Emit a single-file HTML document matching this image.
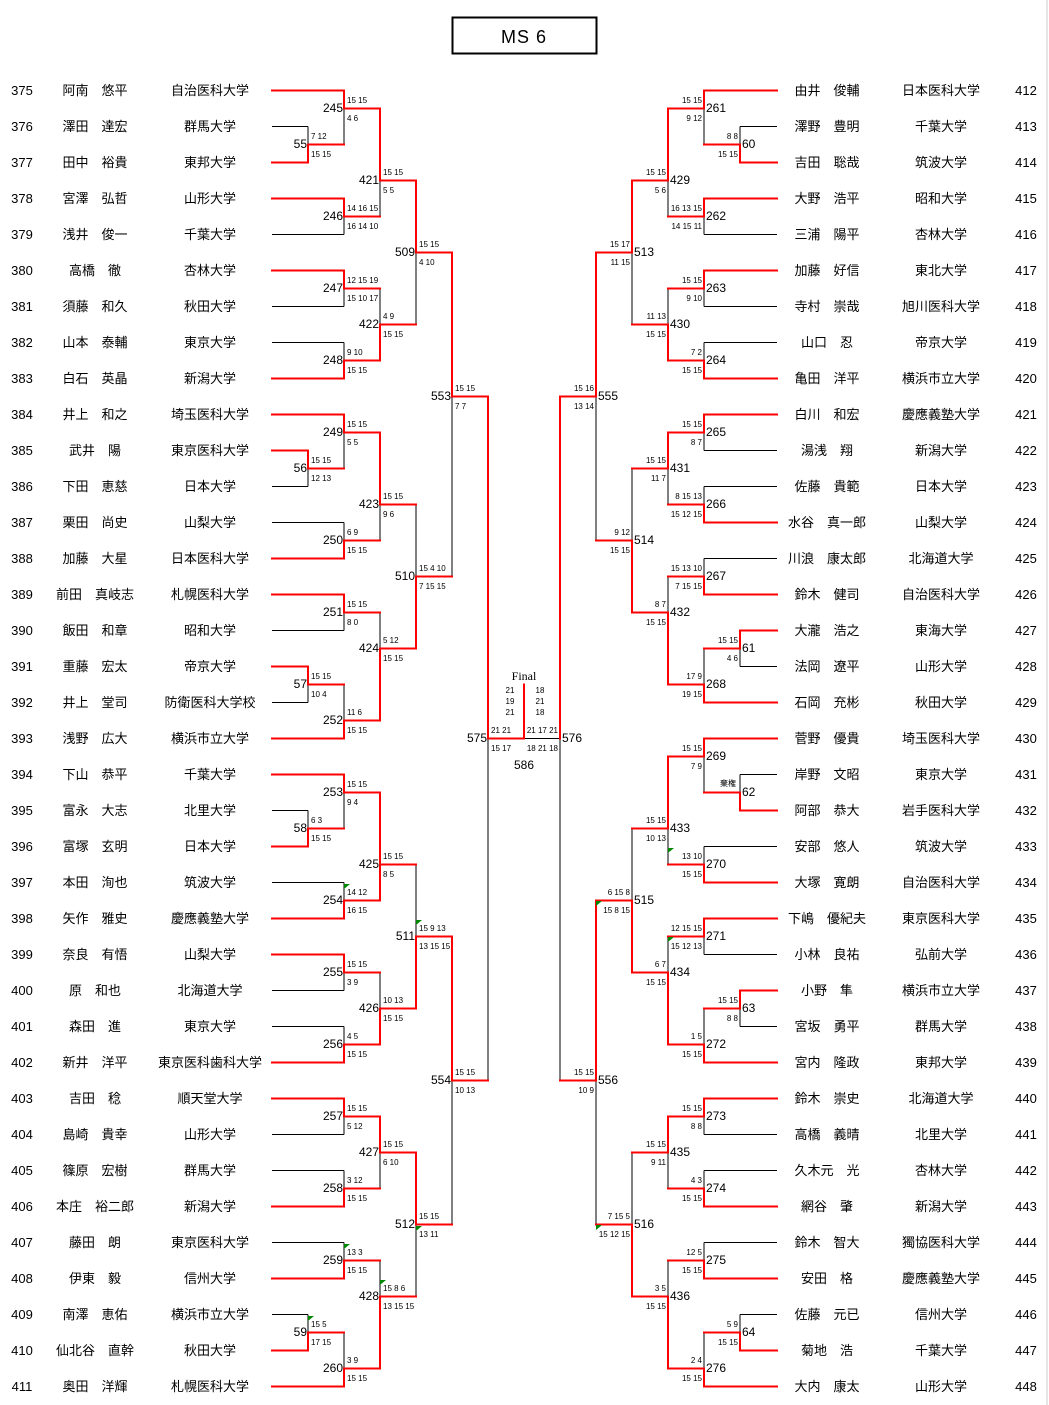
<!DOCTYPE html>
<html><head><meta charset="utf-8">
<style>
html,body{margin:0;padding:0;background:#fff;}
svg{display:block;}
.t{font-family:"Liberation Sans","Noto Sans CJK JP",sans-serif;font-size:13px;fill:#000;}
.lb{font-family:"Liberation Sans",sans-serif;font-size:12px;fill:#000;}
.sc{font-family:"Liberation Sans",sans-serif;font-size:8px;fill:#000;}
</style></head>
<body>
<svg id="s" width="1049" height="1405" xmlns="http://www.w3.org/2000/svg">
<rect x="0" y="0" width="1049" height="1405" fill="#fff"/>
<line x1="1047" y1="0" x2="1047" y2="1405" stroke="#ccc" stroke-width="1"/>
<rect x="452.5" y="17.5" width="144" height="36" fill="none" stroke="#000" stroke-width="2"/>
<text x="524" y="43" text-anchor="middle" font-family="Liberation Sans,sans-serif" font-size="18" letter-spacing="1">MS 6</text>
<text x="524" y="680" text-anchor="middle" font-family="Liberation Serif,serif" font-size="12">Final</text>
</svg>
<script>
var S=document.getElementById('s'),NS='http://www.w3.org/2000/svg';
var blk=[],red=[],txt=[];
function ln(x1,y1,x2,y2,r){(r?red:blk).push([x1,y1,x2,y2]);}
function T(x,y,s,cls,anc){txt.push([x,y,s,cls,anc]);}
var left=[["阿南　悠平","自治医科大学"],["澤田　達宏","群馬大学"],["田中　裕貴","東邦大学"],["宮澤　弘哲","山形大学"],["浅井　俊一","千葉大学"],["高橋　徹","杏林大学"],["須藤　和久","秋田大学"],["山本　泰輔","東京大学"],["白石　英晶","新潟大学"],["井上　和之","埼玉医科大学"],["武井　陽","東京医科大学"],["下田　恵慈","日本大学"],["栗田　尚史","山梨大学"],["加藤　大星","日本医科大学"],["前田　真岐志","札幌医科大学"],["飯田　和章","昭和大学"],["重藤　宏太","帝京大学"],["井上　堂司","防衛医科大学校"],["浅野　広大","横浜市立大学"],["下山　恭平","千葉大学"],["富永　大志","北里大学"],["富塚　玄明","日本大学"],["本田　洵也","筑波大学"],["矢作　雅史","慶應義塾大学"],["奈良　有悟","山梨大学"],["原　和也","北海道大学"],["森田　進","東京大学"],["新井　洋平","東京医科歯科大学"],["吉田　稔","順天堂大学"],["島崎　貴幸","山形大学"],["篠原　宏樹","群馬大学"],["本庄　裕二郎","新潟大学"],["藤田　朗","東京医科大学"],["伊東　毅","信州大学"],["南澤　恵佑","横浜市立大学"],["仙北谷　直幹","秋田大学"],["奥田　洋輝","札幌医科大学"]];
var right=[["由井　俊輔","日本医科大学"],["澤野　豊明","千葉大学"],["吉田　聡哉","筑波大学"],["大野　浩平","昭和大学"],["三浦　陽平","杏林大学"],["加藤　好信","東北大学"],["寺村　崇哉","旭川医科大学"],["山口　忍","帝京大学"],["亀田　洋平","横浜市立大学"],["白川　和宏","慶應義塾大学"],["湯浅　翔","新潟大学"],["佐藤　貴範","日本大学"],["水谷　真一郎","山梨大学"],["川浪　康太郎","北海道大学"],["鈴木　健司","自治医科大学"],["大瀧　浩之","東海大学"],["法岡　遼平","山形大学"],["石岡　充彬","秋田大学"],["菅野　優貴","埼玉医科大学"],["岸野　文昭","東京大学"],["阿部　恭大","岩手医科大学"],["安部　悠人","筑波大学"],["大塚　寛朗","自治医科大学"],["下嶋　優紀夫","東京医科大学"],["小林　良祐","弘前大学"],["小野　隼","横浜市立大学"],["宮坂　勇平","群馬大学"],["宮内　隆政","東邦大学"],["鈴木　崇史","北海道大学"],["高橋　義晴","北里大学"],["久木元　光","杏林大学"],["網谷　肇","新潟大学"],["鈴木　智大","獨協医科大学"],["安田　格","慶應義塾大学"],["佐藤　元已","信州大学"],["菊地　浩","千葉大学"],["大内　康太","山形大学"]];
for(var i=0;i<37;i++){var y=90+36*i+5;
T(22,y,String(375+i),'t','middle');T(95,y,left[i][0],'t','middle');T(210,y,left[i][1],'t','middle');
T(1026,y,String(412+i),'t','middle');T(827,y,right[i][0],'t','middle');T(941,y,right[i][1],'t','middle');}
// match: [label,x,yA,fromA,hA,yB,fromB,hB,out,win,st,sb]
function M(side,m){var lab=m[0],x=m[1],ya=m[2],fa=m[3],ha=m[4],yb=m[5],fb=m[6],hb=m[7],o=m[8],w=m[9];
ln(fa,ya,x,ya,ha);ln(x,ya,x,o,w.indexOf('A')>=0);ln(x,o,x,yb,w.indexOf('B')>=0);ln(fb,yb,x,yb,hb);
if(side<0){T(x-1,o+4,lab,'lb','end');if(m[10])T(x+3,o-5,m[10],'sc','start');if(m[11])T(x+3,o+13,m[11],'sc','start');}
else{T(x+2,o+4,lab,'lb','start');if(m[10])T(x-2,o-5,m[10],'sc','end');if(m[11])T(x-2,o+13,m[11],'sc','end');}}
var L=[
['55',308,126,272,0,162,272,1,144,'B','7 12','15 15'],
['56',308,450,272,1,486,272,0,468,'A','15 15','12 13'],
['57',308,666,272,1,702,272,0,684,'A','15 15','10 4'],
['58',308,810,272,0,846,272,1,828,'B','6 3','15 15'],
['59',308,1314,272,0,1350,272,1,1332,'B','15 5','17 15'],
['245',344,90,272,1,144,308,1,108,'A','15 15','4 6'],
['246',344,198,272,1,234,272,0,216,'A','14 16 15','16 14 10'],
['247',344,270,272,1,306,272,0,288,'A','12 15 19','15 10 17'],
['248',344,342,272,0,378,272,1,360,'B','9 10','15 15'],
['249',344,414,272,1,468,308,1,432,'A','15 15','5 5'],
['250',344,522,272,0,558,272,1,540,'B','6 9','15 15'],
['251',344,594,272,1,630,272,0,612,'A','15 15','8 0'],
['252',344,684,308,1,738,272,1,720,'B','11 6','15 15'],
['253',344,774,272,1,828,308,1,792,'A','15 15','9 4'],
['254',344,882,272,0,918,272,1,900,'B','14 12','16 15'],
['255',344,954,272,1,990,272,0,972,'A','15 15','3 9'],
['256',344,1026,272,0,1062,272,1,1044,'B','4 5','15 15'],
['257',344,1098,272,1,1134,272,0,1116,'A','15 15','5 12'],
['258',344,1170,272,0,1206,272,1,1188,'B','3 12','15 15'],
['259',344,1242,272,0,1278,272,1,1260,'B','13 3','15 15'],
['260',344,1332,308,1,1386,272,1,1368,'B','3 9','15 15'],
['421',380,108,344,1,216,344,1,180,'A','15 15','5 5'],
['422',380,288,344,1,360,344,1,324,'B','4 9','15 15'],
['423',380,432,344,1,540,344,1,504,'A','15 15','9 6'],
['424',380,612,344,1,720,344,1,648,'B','5 12','15 15'],
['425',380,792,344,1,900,344,1,864,'AB','15 15','8 5'],
['426',380,972,344,1,1044,344,1,1008,'B','10 13','15 15'],
['427',380,1116,344,1,1188,344,1,1152,'A','15 15','6 10'],
['428',380,1260,344,1,1368,344,1,1296,'B','15 8 6','13 15 15'],
['509',416,180,380,1,324,380,1,252,'A','15 15','4 10'],
['510',416,504,380,1,648,380,1,576,'B','15 4 10','7 15 15'],
['511',416,864,380,1,1008,380,1,936,'B','15 9 13','13 15 15'],
['512',416,1152,380,1,1296,380,1,1224,'A','15 15','13 11'],
['553',452,252,416,1,576,416,1,396,'A','15 15','7 7'],
['554',452,936,416,1,1224,416,1,1080,'A','15 15','10 13'],
['575',488,396,452,1,1080,452,1,738,'A','21 21','15 17']];
var R=[
['60',740,126,777,0,162,777,1,144,'B','8 8','15 15'],
['61',740,630,777,1,666,777,0,648,'A','15 15','4 6'],
['62',740,774,777,0,810,777,1,792,'B','',''],
['63',740,990,777,1,1026,777,0,1008,'A','15 15','8 8'],
['64',740,1314,777,0,1350,777,1,1332,'B','5 9','15 15'],
['261',704,90,777,1,144,740,1,108,'A','15 15','9 12'],
['262',704,198,777,1,234,777,0,216,'A','16 13 15','14 15 11'],
['263',704,270,777,1,306,777,0,288,'A','15 15','9 10'],
['264',704,342,777,0,378,777,1,360,'B','7 2','15 15'],
['265',704,414,777,1,450,777,0,432,'A','15 15','8 7'],
['266',704,486,777,0,522,777,1,504,'B','8 15 13','15 12 15'],
['267',704,558,777,0,594,777,1,576,'B','15 13 10','7 15 15'],
['268',704,648,740,1,702,777,1,684,'B','17 9','19 15'],
['269',704,738,777,1,792,740,1,756,'A','15 15','7 9'],
['270',704,846,777,0,882,777,1,864,'B','13 10','15 15'],
['271',704,918,777,1,954,777,0,936,'A','12 15 15','15 12 13'],
['272',704,1008,740,1,1062,777,1,1044,'B','1 5','15 15'],
['273',704,1098,777,1,1134,777,0,1116,'A','15 15','8 8'],
['274',704,1170,777,0,1206,777,1,1188,'B','4 3','15 15'],
['275',704,1242,777,0,1278,777,1,1260,'B','12 5','15 15'],
['276',704,1332,740,1,1386,777,1,1368,'B','2 4','15 15'],
['429',668,108,704,1,216,704,1,180,'A','15 15','5 6'],
['430',668,288,704,1,360,704,1,324,'B','11 13','15 15'],
['431',668,432,704,1,504,704,1,468,'A','15 15','11 7'],
['432',668,576,704,1,684,704,1,612,'B','8 7','15 15'],
['433',668,756,704,1,864,704,1,828,'A','15 15','10 13'],
['434',668,936,704,1,1044,704,1,972,'B','6 7','15 15'],
['435',668,1116,704,1,1188,704,1,1152,'A','15 15','9 11'],
['436',668,1260,704,1,1368,704,1,1296,'B','3 5','15 15'],
['513',632,180,668,1,324,668,1,252,'A','15 17','11 15'],
['514',632,468,668,1,612,668,1,540,'B','9 12','15 15'],
['515',632,828,668,1,972,668,1,900,'B','6 15 8','15 8 15'],
['516',632,1152,668,1,1296,668,1,1224,'B','7 15 5','15 12 15'],
['555',596,252,632,1,540,632,1,396,'A','15 16','13 14'],
['556',596,900,632,1,1224,632,1,1080,'A','15 15','10 9'],
['576',560,396,596,1,1080,596,1,738,'A','21 17 21','18 21 18']];
L.forEach(function(m){M(-1,m);});R.forEach(function(m){M(1,m);});
ln(488,738,524,738,1);ln(524,684,524,738,1);ln(524,738,560,738,0);
T(736,786,'棄権','sc','end');
[['21',510,693],['19',510,704],['21',510,715],['18',540,693],['21',540,704],['18',540,715]].forEach(function(a){T(a[1],a[2],a[0],'sc','middle');});
T(524,769,'586','lb','middle');
function el(n,a){var e=document.createElementNS(NS,n);for(var k in a)e.setAttribute(k,a[k]);S.appendChild(e);return e;}
blk.forEach(function(l){el('line',{x1:l[0],y1:l[1]+.5,x2:l[2],y2:l[3]+.5,stroke:'#000','stroke-width':1});});
red.forEach(function(l){el('line',{x1:l[0],y1:l[1]+.5,x2:l[2],y2:l[3]+.5,stroke:'#f00','stroke-width':2,'stroke-linecap':'square'});});
[[344,884],[416,920],[344,1244],[380,1280],[308,1316],[416,1226],[668,848],[668,937],[596,901],[596,1225]].forEach(function(p){el('polygon',{points:p[0]+','+p[1]+' '+(p[0]+6)+','+p[1]+' '+p[0]+','+(p[1]+5),fill:'#080'});});
txt.forEach(function(t){var e=el('text',{x:t[0],y:t[1],'class':t[3],'text-anchor':t[4]});e.textContent=t[2];});
</script>
</body></html>
